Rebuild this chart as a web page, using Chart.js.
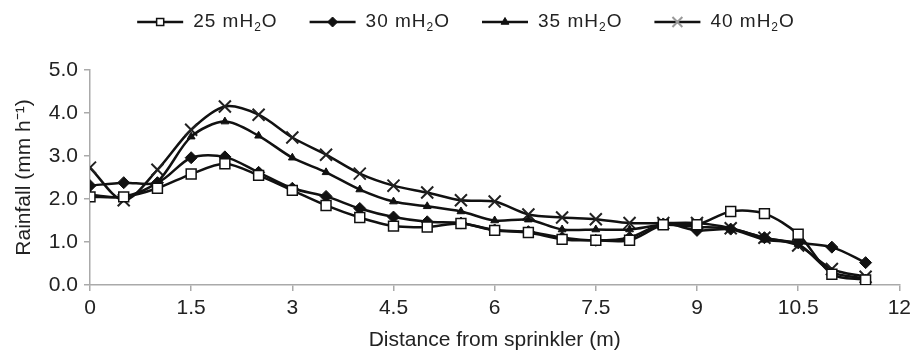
<!DOCTYPE html>
<html>
<head>
<meta charset="utf-8">
<script src="https://cdn.jsdelivr.net/npm/chart.js@4.4.1/dist/chart.umd.min.js"></script>
<style>
  html, body { margin: 0; padding: 0; background: #fff; }
  #wrap { width: 916px; height: 353px; }
</style>
</head>
<body>
<div id="wrap"><canvas id="rainChart" width="916" height="353"></canvas></div>
<script>
// Distance from sprinkler (m)
const distances = [0, 0.5, 1, 1.5, 2, 2.5, 3, 3.5, 4, 4.5, 5, 5.5, 6, 6.5, 7, 7.5, 8, 8.5, 9, 9.5, 10, 10.5, 11, 11.5];

// Rainfall (mm/h) per operating pressure
const rain25 = [2.05, 2.05, 2.25, 2.58, 2.82, 2.55, 2.2, 1.85, 1.57, 1.37, 1.35, 1.43, 1.27, 1.22, 1.06, 1.04, 1.04, 1.4, 1.4, 1.71, 1.66, 1.18, 0.25, 0.12];
const rain30 = [2.31, 2.38, 2.38, 2.96, 2.98, 2.62, 2.25, 2.06, 1.78, 1.58, 1.47, 1.44, 1.28, 1.24, 1.1, 1.04, 1.1, 1.42, 1.27, 1.3, 1.1, 0.98, 0.88, 0.52];
const rain35 = [2.1, 2.05, 2.4, 3.45, 3.8, 3.47, 2.96, 2.62, 2.22, 1.94, 1.83, 1.71, 1.5, 1.52, 1.29, 1.29, 1.29, 1.4, 1.35, 1.3, 1.05, 0.95, 0.3, 0.15];
const rain40 = [2.73, 1.97, 2.68, 3.61, 4.15, 3.96, 3.43, 3.03, 2.59, 2.31, 2.15, 1.97, 1.94, 1.64, 1.57, 1.53, 1.44, 1.44, 1.44, 1.32, 1.1, 0.92, 0.37, 0.19];

const pressures = ['25', '30', '35', '40'];
const xTicks = [0, 1.5, 3, 4.5, 6, 7.5, 9, 10.5, 12];
const yTicks = [0, 1, 2, 3, 4, 5];

const FONT = '"Liberation Sans", Arial, sans-serif';
const toPoints = arr => distances.map((d, i) => ({ x: d, y: arr[i] }));

// Legend drawn by hand: line + marker, label with subscript 2
const lineLegend = {
    id: 'lineLegend',
    afterDraw(chart) {
        const ctx = chart.ctx;
        const y = 22;
        const lineLen = 46;
        const gapText = 10;
        const gapItem = 32;
        ctx.save();
        ctx.letterSpacing = '1px';
        const items = chart.data.datasets.map((ds, i) => {
            ctx.font = '19px ' + FONT;
            const a = pressures[i] + ' mH';
            const wa = ctx.measureText(a).width;
            const wo = ctx.measureText('O').width;
            ctx.font = '12px ' + FONT;
            const ws = ctx.measureText('2').width;
            return { ds, a, wa, ws, wo, w: lineLen + gapText + wa + ws + wo };
        });
        const total = items.reduce((s, it) => s + it.w, 0) + gapItem * (items.length - 1);
        let x = 466 - total / 2;
        items.forEach(it => {
            const ds = it.ds;
            ctx.strokeStyle = '#111';
            ctx.lineWidth = 2.5;
            ctx.beginPath();
            ctx.moveTo(x, y);
            ctx.lineTo(x + lineLen, y);
            ctx.stroke();
            ctx.fillStyle = ds.legendFill;
            ctx.strokeStyle = ds.legendStroke;
            ctx.lineWidth = ds.pointBorderWidth;
            Chart.helpers.drawPoint(ctx, {
                pointStyle: ds.pointStyle,
                radius: ds.legendRadius,
                borderWidth: ds.pointBorderWidth,
                rotation: 0
            }, x + lineLen / 2, y);
            let tx = x + lineLen + gapText;
            ctx.fillStyle = '#222';
            ctx.textBaseline = 'middle';
            ctx.textAlign = 'left';
            ctx.font = '19px ' + FONT;
            ctx.fillText(it.a, tx, y);
            tx += it.wa;
            ctx.font = '12px ' + FONT;
            ctx.fillText('2', tx, y + 6);
            tx += it.ws;
            ctx.font = '19px ' + FONT;
            ctx.fillText('O', tx, y);
            x += it.w + gapItem;
        });
        ctx.restore();
    }
};

new Chart(document.getElementById('rainChart'), {
    type: 'line',
    data: {
        datasets: [
            {
                label: '25 mH₂O',
                data: toPoints(rain25),
                borderColor: '#111',
                borderWidth: 2.5,
                pointStyle: 'rect',
                pointRadius: 7,
                pointBorderWidth: 1.5,
                pointBackgroundColor: '#fff',
                pointBorderColor: '#111',
                legendFill: '#fff',
                legendStroke: '#111',
                legendRadius: 5,
                tension: 0.3
            },
            {
                label: '30 mH₂O',
                data: toPoints(rain30),
                borderColor: '#111',
                borderWidth: 2.5,
                pointStyle: 'rectRot',
                pointRadius: 6,
                pointBorderWidth: 1,
                pointBackgroundColor: '#111',
                pointBorderColor: '#111',
                legendFill: '#111',
                legendStroke: '#111',
                legendRadius: 5,
                tension: 0.3
            },
            {
                label: '35 mH₂O',
                data: toPoints(rain35),
                borderColor: '#111',
                borderWidth: 2.5,
                pointStyle: 'triangle',
                pointRadius: 4.5,
                pointBorderWidth: 1,
                pointBackgroundColor: '#111',
                pointBorderColor: '#111',
                legendFill: '#111',
                legendStroke: '#111',
                legendRadius: 4.5,
                tension: 0.3
            },
            {
                label: '40 mH₂O',
                data: toPoints(rain40),
                borderColor: '#111',
                borderWidth: 2.5,
                pointStyle: 'crossRot',
                pointRadius: 8.5,
                pointBorderWidth: 2,
                pointBackgroundColor: '#222',
                pointBorderColor: '#222',
                legendFill: '#999',
                legendStroke: '#999',
                legendRadius: 7,
                tension: 0.3
            }
        ]
    },
    options: {
        responsive: false,
        animation: false,
        devicePixelRatio: 1,
        layout: {
            padding: { top: 70, left: 0, right: 16, bottom: 0 }
        },
        plugins: {
            legend: { display: false },
            tooltip: { enabled: false }
        },
        scales: {
            x: {
                type: 'linear',
                min: 0,
                max: 12,
                afterBuildTicks: s => { s.ticks = xTicks.map(v => ({ value: v })); },
                afterFit: s => { s.height = 68; },
                border: { color: '#aaa', width: 1.5 },
                grid: { drawOnChartArea: false, drawTicks: true, tickLength: 6, color: '#aaa', lineWidth: 1.5 },
                ticks: {
                    padding: 5,
                    color: '#222',
                    font: { family: FONT, size: 21 },
                    maxRotation: 0,
                    callback: v => String(v)
                },
                title: {
                    display: true,
                    text: 'Distance from sprinkler (m)',
                    color: '#222',
                    font: { family: FONT, size: 21 },
                    padding: { top: 0, bottom: 0 }
                }
            },
            y: {
                min: 0,
                max: 5,
                afterBuildTicks: s => { s.ticks = yTicks.map(v => ({ value: v })); },
                afterFit: s => { s.width = 90; },
                border: { color: '#aaa', width: 1.5 },
                grid: { drawOnChartArea: false, drawTicks: true, tickLength: 6, color: '#aaa', lineWidth: 1.5 },
                ticks: {
                    padding: 6,
                    color: '#222',
                    font: { family: FONT, size: 21 },
                    callback: v => v.toFixed(1)
                },
                title: {
                    display: true,
                    text: 'Rainfall (mm h⁻¹)',
                    color: '#222',
                    font: { family: FONT, size: 21 },
                    padding: { top: 12, bottom: 12 }
                }
            }
        }
    },
    plugins: [lineLegend]
});
</script>
</body>
</html>
